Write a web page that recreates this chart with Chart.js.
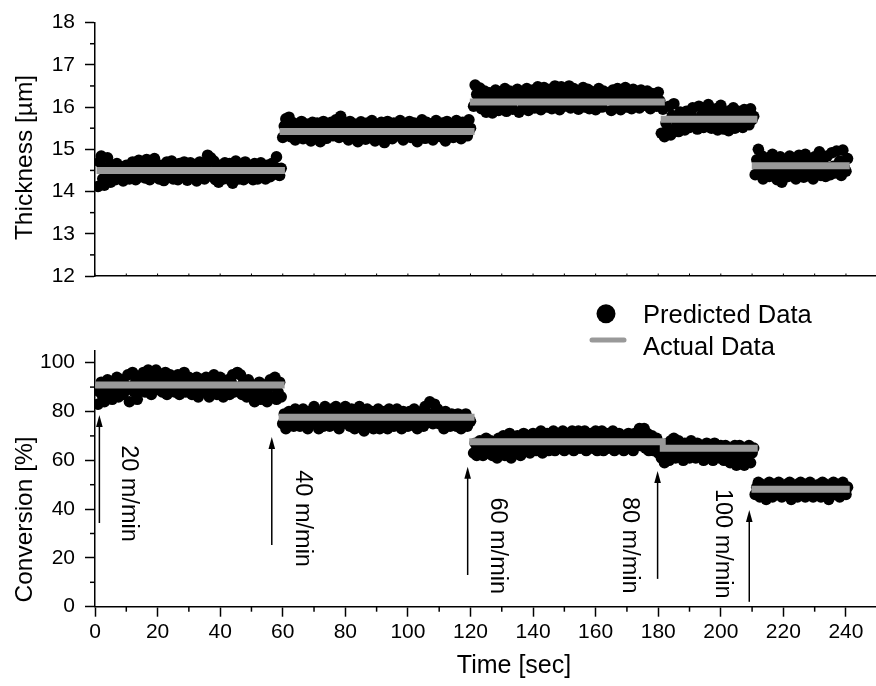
<!DOCTYPE html>
<html>
<head>
<meta charset="utf-8">
<script src="https://cdn.jsdelivr.net/npm/chart.js@4.4.1/dist/chart.umd.min.js"></script>
<style>
  html, body { margin: 0; padding: 0; background: #fff; }
  #wrap { position: relative; width: 876px; height: 686px; overflow: hidden; }
  canvas { position: absolute; left: 0; }
  #thicknessChart { top: 0; }
  #conversionChart { top: 300px; }
</style>
</head>
<body>
<div id="wrap">
  <canvas id="thicknessChart" width="876" height="300"></canvas>
  <canvas id="conversionChart" width="876" height="386"></canvas>
</div>
<script>
// ---- Line speed runs -------------------------------------------------------
const runs = ['20 m/min', '40 m/min', '60 m/min', '80 m/min', '100 m/min'];
const runStart = [1, 60, 121, 181, 211];   // first sample of each run [sec]
const SAMPLE_STEP = 0.5;                   // sampling interval [sec]

// ---- Predicted thickness [µm], one list per run ----------------------------
const thick20 = [
  14.12,14.70,14.84,14.30,14.15,14.55,14.80,14.40,14.22,14.62,
  14.45,14.28,14.66,14.50,14.35,14.58,14.25,14.48,14.62,14.38,
  14.30,14.55,14.70,14.42,14.28,14.60,14.74,14.35,14.50,14.65,
  14.32,14.76,14.45,14.28,14.68,14.52,14.78,14.36,14.58,14.30,
  14.62,14.40,14.26,14.55,14.70,14.34,14.48,14.72,14.30,14.60,
  14.44,14.28,14.66,14.52,14.35,14.70,14.42,14.27,14.58,14.68,
  14.36,14.50,14.64,14.25,14.45,14.70,14.38,14.56,14.30,14.62,
  14.86,14.48,14.80,14.35,14.72,14.28,14.55,14.22,14.62,14.45,
  14.30,14.68,14.50,14.36,14.66,14.25,14.20,14.48,14.72,14.40,
  14.30,14.62,14.52,14.28,14.70,14.44,14.34,14.60,14.50,14.28,
  14.66,14.42,14.30,14.58,14.68,14.38,14.52,14.30,14.62,14.45,
  14.35,14.66,14.48,14.58,14.82,14.40,14.38,14.55];
const thick40 = [
  15.28,15.55,15.72,15.40,15.76,15.30,15.50,15.62,15.22,15.45,
  15.58,15.35,15.66,15.25,15.48,15.60,15.32,15.54,15.20,15.64,
  15.42,15.30,15.62,15.50,15.18,15.56,15.66,15.38,15.26,15.60,
  15.45,15.64,15.32,15.55,15.70,15.40,15.28,15.78,15.50,15.62,
  15.35,15.58,15.22,15.66,15.44,15.30,15.60,15.52,15.18,15.48,
  15.65,15.38,15.56,15.24,15.62,15.46,15.34,15.68,15.40,15.20,
  15.58,15.50,15.30,15.64,15.42,15.16,15.55,15.66,15.36,15.48,
  15.25,15.62,15.40,15.56,15.32,15.68,15.45,15.22,15.60,15.38,
  15.52,15.66,15.28,15.44,15.62,15.35,15.18,15.58,15.48,15.70,
  15.40,15.26,15.64,15.52,15.34,15.60,15.22,15.46,15.68,15.38,
  15.55,15.30,15.62,15.44,15.20,15.66,15.50,15.36,15.60,15.28,
  15.48,15.68,15.38,15.56,15.25,15.64,15.42,15.58,15.32,15.70,
  15.50];
const thick60 = [
  16.02,16.52,16.30,16.10,16.45,15.96,16.22,16.38,15.88,16.15,
  16.34,16.05,15.86,16.28,16.40,16.12,15.92,16.36,16.20,16.02,
  16.44,15.90,16.26,16.38,16.08,15.95,16.32,16.18,16.42,15.88,
  16.15,16.36,16.00,16.25,16.44,15.92,16.30,16.12,16.40,15.98,
  16.22,16.48,16.05,15.94,16.35,16.46,16.15,16.00,16.28,16.42,
  15.96,16.18,16.50,16.08,16.32,15.94,16.48,16.22,16.02,16.40,
  16.26,16.50,15.98,16.14,16.44,16.04,16.30,15.95,16.38,16.20,
  16.46,16.00,16.28,16.42,15.96,16.16,16.36,16.06,15.94,16.30,
  16.44,16.10,16.00,16.38,16.22,16.34,16.18,16.28,15.92,16.40,
  16.12,16.02,16.44,16.24,15.94,16.36,16.10,16.46,16.00,16.30,
  16.18,15.96,16.42,16.06,16.34,16.22,15.98,16.40,16.14,16.30,
  16.04,16.38,16.20,15.96,16.32,16.10,16.28,16.02,16.35,16.15];
const thick80 = [
  15.38,15.95,15.30,15.62,15.44,16.02,15.34,15.80,16.08,15.50,
  15.66,15.42,15.88,15.56,15.74,15.46,15.90,15.60,15.52,15.84,
  15.98,15.55,15.70,15.48,16.02,15.64,15.82,15.52,15.94,15.58,
  16.06,15.72,15.50,15.88,15.62,15.96,15.46,15.78,16.04,15.56,
  15.48,15.86,15.66,15.44,15.92,15.58,15.98,15.50,15.76,15.90,
  15.62,15.80,15.52,15.94,15.68,15.86,15.58,15.96,15.70,15.78];
const thick100 = [
  14.40,14.75,15.00,14.45,14.85,14.30,14.62,14.52,14.80,14.36,
  14.58,14.88,14.42,14.66,14.28,14.50,14.82,14.22,14.40,14.70,
  14.55,14.36,14.84,14.62,14.44,14.78,14.30,14.56,14.86,14.48,
  14.66,14.34,14.88,14.52,14.40,14.72,14.58,14.30,14.82,14.46,
  14.62,14.94,14.38,14.70,14.50,14.36,14.84,14.56,14.40,14.92,
  14.60,14.44,14.96,14.52,14.72,14.38,14.98,14.56,14.48,14.78];

// ---- Predicted conversion [%], one list per run ----------------------------
const conv20 = [
  83,88,92,86,84,90,93,87,89,85,
  92,88,94,86,90,93,87,91,89,95,
  84,90,96,88,92,85,94,89,91,96,
  88,93,97,90,87,95,92,97,89,91,
  94,88,92,96,87,90,95,89,93,88,
  91,95,87,93,90,96,88,92,94,89,
  87,92,90,94,86,91,93,88,90,94,
  89,86,93,91,95,88,87,92,94,90,
  86,91,89,93,87,92,95,88,90,96,
  89,95,87,92,90,86,93,89,91,87,
  84,90,88,92,85,91,87,89,84,90,
  93,86,91,94,85,88,92,86];
const conv40 = [
  75,79,73,77,80,75,78,74,81,76,
  79,74,77,81,75,78,73,80,76,79,
  82,75,77,73,80,78,74,82,76,79,
  74,81,77,75,82,78,73,80,76,79,
  82,75,78,74,81,77,73,80,76,82,
  75,79,72,78,81,74,77,80,73,79,
  76,81,73,78,75,80,77,73,81,76,
  79,74,78,81,75,77,73,80,76,79,
  74,80,77,75,81,78,73,79,76,80,
  74,82,78,76,84,79,75,83,77,81,
  75,79,77,73,80,76,78,74,79,75,
  78,74,79,76,73,78,75,79,74,77,
  76];
const conv60 = [
  63,67,62,65,68,64,62,66,69,63,
  65,68,62,67,64,61,69,66,63,70,
  62,67,64,71,61,66,69,63,70,65,
  62,68,71,64,66,70,63,67,71,65,
  64,70,67,72,63,68,66,71,64,69,
  66,72,64,68,71,65,69,72,64,67,
  71,65,68,72,64,70,66,72,65,69,
  67,72,64,70,66,71,65,68,72,64,
  69,66,72,64,68,71,65,70,66,72,
  64,69,67,71,65,68,64,70,66,71,
  65,69,64,71,67,70,73,66,69,73,
  65,71,64,68,70,64,67,69,63,66];
const conv80 = [
  61,66,59,64,67,60,68,63,69,61,
  65,68,62,66,60,67,63,65,61,68,
  63,66,61,67,64,62,66,60,65,67,
  61,66,63,60,67,62,65,61,66,63,
  60,66,62,65,59,64,61,66,58,63,
  66,60,64,58,65,61,66,59,63,65];
const conv100 = [
  46,49,51,45,48,50,46,44,49,51,
  47,45,50,48,46,51,49,45,47,50,
  48,46,51,44,49,47,50,45,48,51,
  46,49,45,50,47,51,48,45,49,46,
  50,47,45,51,48,46,50,44,49,47,
  51,46,48,50,45,49,51,47,46,49];

// ---- Actual (measured) levels per run and the time span each one covers ----
const thickActual = [14.50, 15.42, 16.12, 15.71, 14.61];
const thickFrom   = [0.5, 59.0, 119.8, 180.8, 209.9];
const thickTo     = [60.7, 121.3, 182.1, 211.7, 241.2];
const convActual  = [90.9, 77.6, 67.6, 64.9, 48.1];
const convFrom    = [0.1, 58.7, 119.6, 180.5, 209.8];
const convTo      = [60.6, 121.3, 182.4, 211.8, 241.2];

// ---- Tick labels ------------------------------------------------------------
const timeTicks       = [0, 20, 40, 60, 80, 100, 120, 140, 160, 180, 200, 220, 240];
const timeMinorTicks  = [10, 30, 50, 70, 90, 110, 130, 150, 170, 190, 210, 230];
const thickTicks      = [12, 13, 14, 15, 16, 17, 18];
const thickMinorTicks = [12.5, 13.5, 14.5, 15.5, 16.5, 17.5];
const convTicks       = [0, 20, 40, 60, 80, 100];
const convMinorTicks  = [10, 30, 50, 70, 90];

// ---- Line-speed change markers (arrow from/to in conversion units) ---------
const markerTime  = [1.4, 56.5, 119.1, 179.8, 209.1];
const markerFrom  = [34.3, 25.3, 13.0, 11.4, 2.0];
const markerTo    = [78.6, 69.5, 57.4, 55.6, 39.6];
const labelTime   = [10.7, 66.2, 128.5, 170.7, 200.4];
const labelLevel  = [46.4, 36.1, 25.0, 25.2, 25.8];

const FONT = "'Liberation Sans', Arial, Helvetica, sans-serif";
const X_MAX = 249.6;

function toPoints(lists) {
  const pts = [];
  lists.forEach((vals, i) => vals.forEach((v, j) => pts.push({ x: runStart[i] + j * SAMPLE_STEP, y: v })));
  return pts;
}
function toSegments(levels, from, to) {
  const pts = [];
  levels.forEach((v, i) => {
    pts.push({ x: from[i], y: v }, { x: to[i], y: v }, { x: to[i], y: null });
  });
  return pts;
}

function xScale(showLabels, height) {
  return {
    type: 'linear', min: 0, max: X_MAX,
    afterBuildTicks: s => { s.ticks = timeTicks.map(v => ({ value: v })); },
    ticks: { display: showLabels, color: '#000', font: { family: FONT, size: 21 },
             padding: 3, maxRotation: 0, autoSkip: false },
    grid: { display: showLabels, drawOnChartArea: false, drawTicks: true, tickLength: 10,
            tickColor: '#000', tickWidth: 1.5 },
    border: { display: true, color: '#000', width: 1.5 },
    afterFit: s => { s.height = height; }
  };
}
function yScale(min, max, ticks) {
  return {
    type: 'linear', min, max,
    afterBuildTicks: s => { s.ticks = ticks.map(v => ({ value: v })); },
    ticks: { color: '#000', font: { family: FONT, size: 21 }, padding: 10, autoSkip: false },
    grid: { display: true, drawOnChartArea: false, drawTicks: true, tickLength: 10,
            tickColor: '#000', tickWidth: 1.5 },
    border: { display: true, color: '#000', width: 1.5 },
    afterFit: s => { s.width = 95; }
  };
}

function line(ctx, x0, y0, x1, y1) {
  ctx.beginPath(); ctx.moveTo(x0, y0); ctx.lineTo(x1, y1); ctx.stroke();
}
function minorTicks(chart, yMinor, xMinor, xLen) {
  const { ctx, chartArea: ca, scales: { x, y } } = chart;
  ctx.save();
  ctx.strokeStyle = '#000';
  ctx.lineWidth = 1.5;
  yMinor.forEach(v => { const p = y.getPixelForValue(v); line(ctx, ca.left - 5, p, ca.left, p); });
  xMinor.forEach(v => { const p = x.getPixelForValue(v); line(ctx, p, ca.bottom, p, ca.bottom + xLen); });
  ctx.restore();
}
function rotatedText(ctx, text, x, y, angle, font, align, baseline) {
  ctx.save();
  ctx.translate(x, y);
  ctx.rotate(angle);
  ctx.font = font;
  ctx.fillStyle = '#000';
  ctx.textAlign = align;
  ctx.textBaseline = baseline;
  ctx.fillText(text, 0, 0);
  ctx.restore();
}

const predictedStyle = {
  type: 'scatter', showLine: false, pointRadius: 5.8, pointHoverRadius: 5.8,
  pointBackgroundColor: '#000', pointBorderWidth: 0, borderWidth: 0, clip: 0, order: 1
};
const actualStyle = {
  type: 'line', borderColor: '#999999', borderWidth: 7, borderCapStyle: 'butt',
  pointRadius: 0, spanGaps: false, tension: 0, clip: false, order: 0
};

// ---- Thickness panel --------------------------------------------------------
const thicknessDecor = {
  id: 'thicknessDecor',
  afterDraw(chart) {
    const { ctx, chartArea: ca, scales: { x } } = chart;
    minorTicks(chart, thickMinorTicks, [], 0);
    ctx.save();
    ctx.strokeStyle = '#000';
    ctx.lineWidth = 1;
    timeTicks.concat(timeMinorTicks).forEach(v => {
      const p = x.getPixelForValue(v);
      line(ctx, p, ca.bottom, p, ca.bottom - 2.5);
    });
    ctx.restore();
    rotatedText(ctx, 'Thickness [µm]', 32, 157.5, -Math.PI / 2, `24.5px ${FONT}`, 'center', 'alphabetic');
  }
};

new Chart(document.getElementById('thicknessChart'), {
  type: 'scatter',
  data: {
    datasets: [
      Object.assign({ label: 'Actual Data', data: toSegments(thickActual, thickFrom, thickTo) }, actualStyle),
      Object.assign({ label: 'Predicted Data',
                      data: toPoints([thick20, thick40, thick60, thick80, thick100]) }, predictedStyle)
    ]
  },
  options: {
    responsive: false, animation: false, devicePixelRatio: 1, events: [],
    layout: { autoPadding: false, padding: { top: 19.5, left: 0, right: 0, bottom: 0 } },
    scales: { x: xScale(false, 24), y: yScale(12, 18, thickTicks) },
    plugins: { legend: { display: false }, tooltip: { enabled: false } }
  },
  plugins: [thicknessDecor]
});

// ---- Conversion panel -------------------------------------------------------
const conversionDecor = {
  id: 'conversionDecor',
  afterDraw(chart) {
    const { ctx, scales: { x, y } } = chart;
    minorTicks(chart, convMinorTicks, timeMinorTicks, 5);

    // line-speed change arrows and labels
    ctx.save();
    ctx.strokeStyle = '#000';
    ctx.fillStyle = '#000';
    ctx.lineWidth = 1.5;
    markerTime.forEach((t, i) => {
      const px = x.getPixelForValue(t);
      const y0 = y.getPixelForValue(markerFrom[i]);
      const y1 = y.getPixelForValue(markerTo[i]);
      line(ctx, px, y0, px, y1 + 8);
      ctx.beginPath();
      ctx.moveTo(px, y1);
      ctx.lineTo(px - 3.3, y1 + 12);
      ctx.lineTo(px + 3.3, y1 + 12);
      ctx.closePath();
      ctx.fill();
    });
    ctx.restore();
    runs.forEach((r, i) => {
      rotatedText(ctx, r, x.getPixelForValue(labelTime[i]), y.getPixelForValue(labelLevel[i]),
                  Math.PI / 2, `23.5px ${FONT}`, 'center', 'middle');
    });

    // axis titles
    rotatedText(ctx, 'Conversion [%]', 32, 219.5, -Math.PI / 2, `24.5px ${FONT}`, 'center', 'alphabetic');
    rotatedText(ctx, 'Time [sec]', 514, 373, 0, `25px ${FONT}`, 'center', 'alphabetic');

    // legend
    ctx.save();
    ctx.fillStyle = '#000';
    ctx.beginPath();
    ctx.arc(606, 13.7, 9.5, 0, Math.PI * 2);
    ctx.fill();
    ctx.strokeStyle = '#999999';
    ctx.lineWidth = 5;
    ctx.lineCap = 'round';
    line(ctx, 592, 40, 624, 40);
    ctx.font = `25.5px ${FONT}`;
    ctx.textAlign = 'left';
    ctx.textBaseline = 'alphabetic';
    ctx.fillText('Predicted Data', 643, 23);
    ctx.fillText('Actual Data', 643, 55);
    ctx.restore();
  }
};

new Chart(document.getElementById('conversionChart'), {
  type: 'scatter',
  data: {
    datasets: [
      Object.assign({ label: 'Actual Data', data: toSegments(convActual, convFrom, convTo) }, actualStyle),
      Object.assign({ label: 'Predicted Data',
                      data: toPoints([conv20, conv40, conv60, conv80, conv100]) }, predictedStyle)
    ]
  },
  options: {
    responsive: false, animation: false, devicePixelRatio: 1, events: [],
    layout: { autoPadding: false, padding: { top: 50.5, left: 0, right: 0, bottom: 0 } },
    scales: { x: xScale(true, 79.3), y: yScale(0, 105, convTicks) },
    plugins: { legend: { display: false }, tooltip: { enabled: false } }
  },
  plugins: [conversionDecor]
});
</script>
</body>
</html>
